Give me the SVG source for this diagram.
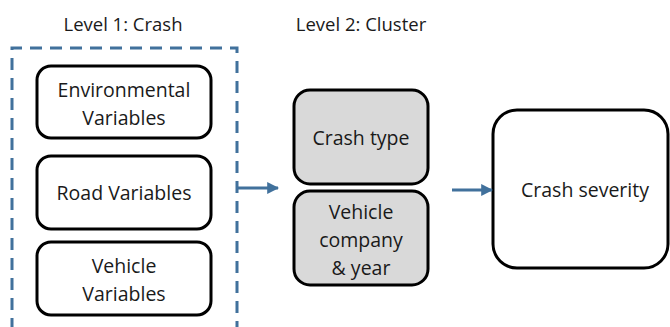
<svg xmlns="http://www.w3.org/2000/svg" width="670" height="327" viewBox="0 0 670 327">
<style>
text{font-family:"Open Sans","Noto Sans",sans-serif;font-size:19.5px;fill:#1a1a1a;text-anchor:middle}
text.lbl{font-size:18.5px}
.box{fill:#fff;stroke:#000;stroke-width:3}
.grey{fill:#d9d9d9;stroke:#000;stroke-width:3}
.conn{stroke:#41719c;stroke-width:3;fill:none}
</style>
<defs>
<marker id="ah" viewBox="0 0 10 10" refX="9" refY="5" markerWidth="4" markerHeight="4" orient="auto" markerUnits="strokeWidth">
<path d="M0,0 L10,5 L0,10 z" fill="#41719c"/>
</marker>
</defs>
<rect width="670" height="327" fill="#fff"/>
<text class="lbl" x="123" y="31">Level 1: Crash</text>
<text class="lbl" x="361" y="31">Level 2: Cluster</text>
<g id="level1">
<path class="conn" d="M12,330 L12,48 L237,48 L237,330" stroke-dasharray="12 8"/>
</g>
<g id="env"><rect class="box" x="37" y="66" width="174" height="72" rx="14"/><text x="124" y="97">Environmental</text><text x="124" y="125">Variables</text></g>
<g id="road"><rect class="box" x="37" y="156" width="174" height="73" rx="14"/><text x="124" y="200">Road Variables</text></g>
<g id="veh"><rect class="box" x="37" y="242" width="174" height="73" rx="14"/><text x="124" y="273">Vehicle</text><text x="124" y="301">Variables</text></g>
<g id="crashtype"><rect class="grey" x="294" y="90" width="134" height="94" rx="16"/><text x="361" y="145">Crash type</text></g>
<g id="vehco"><rect class="grey" x="294" y="191" width="134" height="94" rx="16"/><text x="361" y="219">Vehicle</text><text x="361" y="247">company</text><text x="361" y="275">&amp; year</text></g>
<g id="severity"><rect class="box" x="493" y="110" width="175" height="158" rx="24"/><text x="585" y="197">Crash severity</text></g>
<g id="connectors">
<path class="conn" d="M237,188 L278,188" marker-end="url(#ah)"/>
<path class="conn" d="M452,190 L492,190" marker-end="url(#ah)"/>
</g>
</svg>
